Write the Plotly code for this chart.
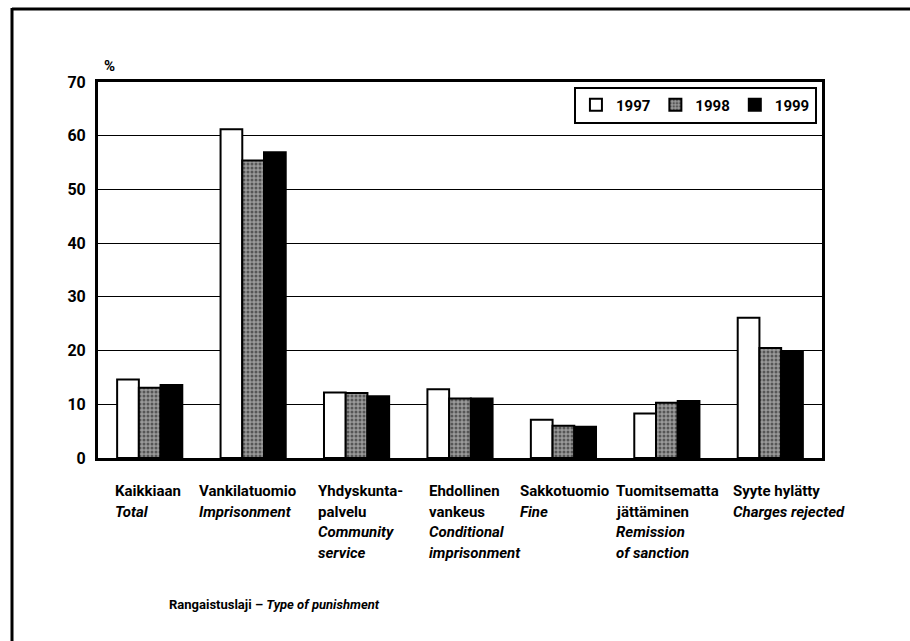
import plotly.graph_objects as go

# Rangaistuslaji / Type of punishment, share (%) by year
categories = ["Kaikkiaan", "Vankilatuomio", "Yhdyskuntapalvelu", "Ehdollinen vankeus",
              "Sakkotuomio", "Tuomitsematta jättäminen", "Syyte hylätty"]
label_fi = [["Kaikkiaan"], ["Vankilatuomio"], ["Yhdyskunta-", "palvelu"],
            ["Ehdollinen", "vankeus"], ["Sakkotuomio"],
            ["Tuomitsematta", "jättäminen"], ["Syyte hylätty"]]
label_en = [["Total"], ["Imprisonment"], ["Community", "service"],
            ["Conditional", "imprisonment"], ["Fine"],
            ["Remission", "of sanction"], ["Charges rejected"]]

years = ["1997", "1998", "1999"]
values_1997 = [14.6, 61.2, 12.2, 12.8, 7.1, 8.3, 26.1]
values_1998 = [13.1, 55.4, 12.1, 11.1, 6.0, 10.3, 20.5]
values_1999 = [13.6, 56.9, 11.5, 11.1, 5.8, 10.6, 19.8]

y_ticks = [0, 10, 20, 30, 40, 50, 60, 70]

FONT = "Roboto, Liberation Sans, Arial, sans-serif"

fig = go.Figure()
fig.add_trace(go.Bar(
    name=years[0], x=categories, y=values_1997,
    marker=dict(color="white", line=dict(color="black", width=2)),
))
fig.add_trace(go.Bar(
    name=years[1], x=categories, y=values_1998,
    marker=dict(color="#8c8c8c", line=dict(color="black", width=2),
                pattern=dict(shape=".", fgcolor="#111111", bgcolor="#9a9a9a",
                             size=4, solidity=0.45)),
))
fig.add_trace(go.Bar(
    name=years[2], x=categories, y=values_1999,
    marker=dict(color="black", line=dict(color="black", width=2)),
))

# horizontal offsets (px) of the label columns relative to each category centre
label_shift = [-37, -56, -41, -33, -45, -53, -39]
line_step = 20.7
annotations = []
for i, cat in enumerate(categories):
    lines = [f"<b>{t}</b>" for t in label_fi[i]] + [f"<b><i>{t}</i></b>" for t in label_en[i]]
    for j, txt in enumerate(lines):
        annotations.append(dict(
            x=cat, xref="x", y=0, yref="paper",
            xanchor="left", yanchor="middle",
            xshift=label_shift[i], yshift=-(33 + j * line_step),
            text=txt, showarrow=False,
            font=dict(family=FONT, size=15, color="black"),
        ))

annotations.append(dict(
    x=(167 - 98) / 724, xref="paper", y=0, yref="paper",
    xanchor="left", yanchor="middle", yshift=-146,
    text="<b>Rangaistuslaji – <i>Type of punishment</i></b>", showarrow=False,
    font=dict(family=FONT, size=13, color="black"),
))
annotations.append(dict(
    x=0, xref="paper", y=1, yref="paper",
    xanchor="left", yanchor="middle", xshift=4, yshift=16,
    text="<b>%</b>", showarrow=False,
    font=dict(family=FONT, size=15, color="black"),
))

fig.update_layout(
    width=910, height=641,
    margin=dict(l=98, r=88, t=82, b=183),
    paper_bgcolor="white", plot_bgcolor="white",
    barmode="group", bargap=0.37, bargroupgap=0,
    font=dict(family=FONT, color="black"),
    showlegend=True,
    legend=dict(
        orientation="h", x=0.993, y=0.988, xanchor="right", yanchor="top",
        bgcolor="white", bordercolor="black", borderwidth=2,
        font=dict(family=FONT, size=15, color="black", weight="bold"),
        itemwidth=30, traceorder="normal",
    ),
    xaxis=dict(
        range=[-0.5, len(categories) - 0.5], autorange=False,
        showticklabels=False, showgrid=False, zeroline=False,
        showline=True, linecolor="black", linewidth=3, mirror=True,
        ticks="",
    ),
    yaxis=dict(
        range=[0, 70], autorange=False,
        tickvals=y_ticks, ticktext=[f"<b>{v}</b>" for v in y_ticks],
        showgrid=True, gridcolor="black", gridwidth=1.3,
        zeroline=False, showline=True, linecolor="black", linewidth=3, mirror=True,
        ticks="", ticklabelstandoff=6,
        tickfont=dict(family=FONT, size=16, color="black"),
    ),
    annotations=annotations,
    shapes=[
        # page frame lines
        dict(type="line", xref="paper", yref="paper", x0=-86 / 724, x1=-86 / 724,
             y0=-183 / 376, y1=(376 + 74) / 376, line=dict(color="black", width=3)),
        dict(type="line", xref="paper", yref="paper", x0=-86 / 724, x1=(724 + 88) / 724,
             y0=(376 + 73) / 376, y1=(376 + 73) / 376, line=dict(color="black", width=3)),
    ],
)

fig.write_html("out.html")
